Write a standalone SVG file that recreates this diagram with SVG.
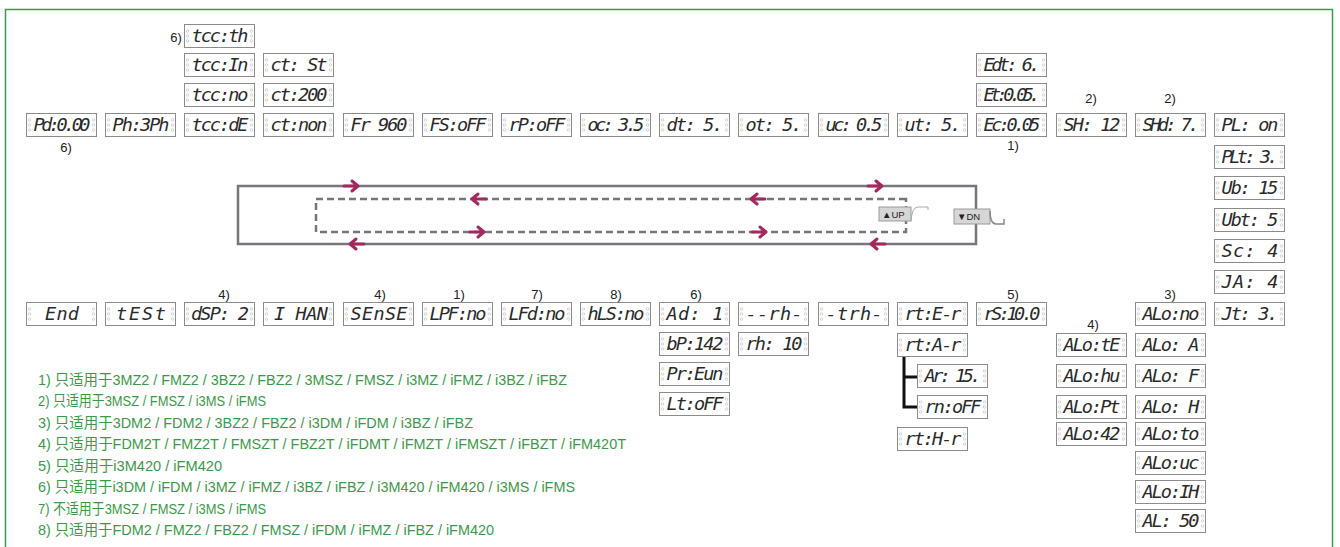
<svg xmlns="http://www.w3.org/2000/svg" xmlns:xlink="http://www.w3.org/1999/xlink" width="1340" height="547" viewBox="0 0 1340 547" xml:space="preserve">
<style>
.t{font-family:"DejaVu Sans Mono",monospace;font-style:italic;font-size:18.5px;fill:#2a2a2a;text-anchor:middle}
.l{font-family:"Liberation Sans",Arial,sans-serif;font-size:13px;fill:#222;text-anchor:middle}
.n{font-family:"Liberation Sans","Noto Sans CJK SC",sans-serif;font-size:15px;fill:#3a9a48}
.loop{fill:none;stroke:#76767c;stroke-width:2.5}
.dash{stroke-dasharray:7 4}
.arw{fill:none;stroke:#a3285e;stroke-width:3;stroke-linecap:round;stroke-linejoin:round}
.btn{fill:#d6d6d6;stroke:#9a9a9a;stroke-width:1}
.bt{font-family:"Liberation Sans",Arial,sans-serif;font-size:9.5px;fill:#222}
</style>
<defs>
<symbol id="box" width="71" height="24" viewBox="0 0 71 24" overflow="visible">
<rect x="0.5" y="0.5" width="70" height="23" fill="#fff" stroke="#8c8c8c" stroke-width="1"/>
<g fill="none" stroke="#c4c4c4" stroke-width="0.7">
<circle cx="3.5" cy="7" r="1.3"/><circle cx="3.5" cy="12" r="1.3"/><circle cx="3.5" cy="17" r="1.3"/>
<circle cx="67.5" cy="7" r="1.3"/><circle cx="67.5" cy="12" r="1.3"/><circle cx="67.5" cy="17" r="1.3"/>
</g>
</symbol>
<path id="ar" d="M-8,0 H6 M0,-5 L6,0 L0,5"/>
</defs>
<rect x="5.5" y="9.5" width="1327" height="560" fill="none" stroke="#3a9d4a" stroke-width="1.5"/>

<g id="connectors">
<rect class="loop" x="238" y="186" width="738" height="58"/>
<path class="loop dash" d="M906,199 H316 V232 H906 Z"/>
<g class="arw">
<use href="#ar" transform="translate(352,186)"/>
<use href="#ar" transform="translate(876,186)"/>
<use href="#ar" transform="translate(478,199) rotate(180)"/>
<use href="#ar" transform="translate(757,199) rotate(180)"/>
<use href="#ar" transform="translate(478,232)"/>
<use href="#ar" transform="translate(760,232)"/>
<use href="#ar" transform="translate(356,244) rotate(180)"/>
<use href="#ar" transform="translate(877,244) rotate(180)"/>
</g>
<path d="M904,357 V407 H917 M904,377 H917" fill="none" stroke="#111" stroke-width="3"/>
</g>

<g id="btn-up">
<rect class="btn" x="879" y="207" width="32" height="14"/>
<path d="M911,221 Q912,207 918,207 H928 V210" fill="none" stroke="#aaa" stroke-width="1"/>
<text class="bt" x="882" y="217.5">▲UP</text>
</g>
<g id="btn-dn">
<rect class="btn" x="954" y="209" width="36" height="15"/>
<path d="M990,211 Q990,224 996,224 H1004 V219" fill="none" stroke="#888" stroke-width="1.5"/>
<text class="bt" x="957" y="220">▼DN</text>
</g>

<g id="labels">
<text class="l" x="176" y="42">6)</text>
<text class="l" x="66" y="152">6)</text>
<text class="l" x="1013" y="150">1)</text>
<text class="l" x="1091" y="103">2)</text>
<text class="l" x="1170" y="103">2)</text>
<text class="l" x="224" y="299">4)</text>
<text class="l" x="380" y="299">4)</text>
<text class="l" x="459" y="299">1)</text>
<text class="l" x="537" y="299">7)</text>
<text class="l" x="616" y="299">8)</text>
<text class="l" x="696" y="299">6)</text>
<text class="l" x="1013" y="299">5)</text>
<text class="l" x="1170" y="299">3)</text>
<text class="l" x="1093" y="329">4)</text>
</g>

<!-- top row -->
<g id="pd"><use href="#box" x="26" y="113"/><text class="t" x="62" y="131" textLength="57">Pd:0.00</text></g>
<g id="ph"><use href="#box" x="105" y="113"/><text class="t" x="141" y="131" textLength="57">Ph:3Ph</text></g>
<g id="tccde"><use href="#box" x="184" y="113"/><text class="t" x="220" y="131" textLength="57">tcc:dE</text></g>
<g id="tccno"><use href="#box" x="184" y="83"/><text class="t" x="220" y="101" textLength="57">tcc:no</text></g>
<g id="tccin"><use href="#box" x="184" y="53"/><text class="t" x="220" y="71" textLength="57">tcc:In</text></g>
<g id="tccth"><use href="#box" x="184" y="24"/><text class="t" x="220" y="42" textLength="57">tcc:th</text></g>
<g id="ctnon"><use href="#box" x="263" y="113"/><text class="t" x="299" y="131" textLength="57">ct:non</text></g>
<g id="ct200"><use href="#box" x="263" y="83"/><text class="t" x="299" y="101" textLength="57">ct:200</text></g>
<g id="ctst"><use href="#box" x="263" y="53"/><text class="t" x="299" y="71" textLength="57">ct: St</text></g>
<g id="fr"><use href="#box" x="343" y="113"/><text class="t" x="379" y="131" textLength="57">Fr 960</text></g>
<g id="fs"><use href="#box" x="422" y="113"/><text class="t" x="458" y="131" textLength="57">FS:oFF</text></g>
<g id="rp"><use href="#box" x="501" y="113"/><text class="t" x="537" y="131" textLength="57">rP:oFF</text></g>
<g id="oc"><use href="#box" x="580" y="113"/><text class="t" x="616" y="131" textLength="57">oc: 3.5</text></g>
<g id="dt"><use href="#box" x="659" y="113"/><text class="t" x="695" y="131" textLength="57">dt:   5.</text></g>
<g id="ot"><use href="#box" x="738" y="113"/><text class="t" x="774" y="131" textLength="57">ot:   5.</text></g>
<g id="uc"><use href="#box" x="818" y="113"/><text class="t" x="854" y="131" textLength="57">uc: 0.5</text></g>
<g id="ut"><use href="#box" x="897" y="113"/><text class="t" x="933" y="131" textLength="57">ut:   5.</text></g>
<g id="ec"><use href="#box" x="976" y="113"/><text class="t" x="1012" y="131" textLength="57">Ec:0.05</text></g>
<g id="et"><use href="#box" x="976" y="83"/><text class="t" x="1012" y="101" textLength="57">Et:0.05.</text></g>
<g id="edt"><use href="#box" x="976" y="53"/><text class="t" x="1012" y="71" textLength="57">Edt: 6.</text></g>
<g id="sh"><use href="#box" x="1056" y="113"/><text class="t" x="1092" y="131" textLength="57">SH:  12</text></g>
<g id="shd"><use href="#box" x="1135" y="113"/><text class="t" x="1171" y="131" textLength="57">SHd: 7.</text></g>
<g id="pl"><use href="#box" x="1214" y="113"/><text class="t" x="1250" y="131" textLength="57">PL: on</text></g>
<g id="plt"><use href="#box" x="1214" y="145"/><text class="t" x="1250" y="163" textLength="57">PLt: 3.</text></g>
<g id="ub"><use href="#box" x="1214" y="176"/><text class="t" x="1250" y="194" textLength="57">Ub:  15</text></g>
<g id="ubt"><use href="#box" x="1214" y="208"/><text class="t" x="1250" y="226" textLength="57">Ubt: 5</text></g>
<g id="sc"><use href="#box" x="1214" y="239"/><text class="t" x="1250" y="257" textLength="57">Sc:   4</text></g>
<g id="ja"><use href="#box" x="1214" y="270"/><text class="t" x="1250" y="288" textLength="57">JA:   4</text></g>
<g id="jt"><use href="#box" x="1214" y="302"/><text class="t" x="1250" y="320" textLength="57">Jt:   3.</text></g>

<!-- bottom row -->
<g id="end"><use href="#box" x="26" y="302"/><text class="t" x="62" y="320" textLength="34">End</text></g>
<g id="test"><use href="#box" x="105" y="302"/><text class="t" x="141" y="320" textLength="50">tESt</text></g>
<g id="dsp"><use href="#box" x="184" y="302"/><text class="t" x="220" y="320" textLength="58">dSP: 2</text></g>
<g id="ihan"><use href="#box" x="263" y="302"/><text class="t" x="301" y="320" textLength="54">I HAN</text></g>
<g id="sense"><use href="#box" x="343" y="302"/><text class="t" x="379" y="320" textLength="57">SEnSE</text></g>
<g id="lpf"><use href="#box" x="422" y="302"/><text class="t" x="458" y="320" textLength="57">LPF:no</text></g>
<g id="lfd"><use href="#box" x="501" y="302"/><text class="t" x="537" y="320" textLength="57">LFd:no</text></g>
<g id="hls"><use href="#box" x="580" y="302"/><text class="t" x="616" y="320" textLength="57">hLS:no</text></g>
<g id="ad"><use href="#box" x="659" y="302"/><text class="t" x="695" y="320" textLength="57">Ad:   1</text></g>
<g id="bp"><use href="#box" x="659" y="332"/><text class="t" x="695" y="350" textLength="57">bP:142</text></g>
<g id="preun"><use href="#box" x="659" y="362"/><text class="t" x="695" y="380" textLength="57">Pr:Eun</text></g>
<g id="ltoff"><use href="#box" x="659" y="392"/><text class="t" x="695" y="410" textLength="57">Lt:oFF</text></g>
<g id="rh"><use href="#box" x="738" y="302"/><text class="t" x="774" y="320" textLength="57">--rh-</text></g>
<g id="rh10"><use href="#box" x="738" y="332"/><text class="t" x="774" y="350" textLength="57">rh:  10</text></g>
<g id="trh"><use href="#box" x="818" y="302"/><text class="t" x="854" y="320" textLength="57">-trh-</text></g>
<g id="rter"><use href="#box" x="897" y="302"/><text class="t" x="933" y="320" textLength="57">rt:E-r</text></g>
<g id="rtar"><use href="#box" x="897" y="333"/><text class="t" x="933" y="351" textLength="57">rt:A-r</text></g>
<g id="ar15"><use href="#box" x="917" y="364"/><text class="t" x="953" y="382" textLength="57">Ar: 15.</text></g>
<g id="rnoff"><use href="#box" x="917" y="395"/><text class="t" x="953" y="413" textLength="57">rn:oFF</text></g>
<g id="rthr"><use href="#box" x="897" y="427"/><text class="t" x="933" y="445" textLength="57">rt:H-r</text></g>
<g id="rs"><use href="#box" x="976" y="302"/><text class="t" x="1012" y="320" textLength="57">rS:10.0</text></g>
<g id="alote"><use href="#box" x="1056" y="333"/><text class="t" x="1092" y="351" textLength="57">ALo:tE</text></g>
<g id="alohu"><use href="#box" x="1056" y="364"/><text class="t" x="1092" y="382" textLength="57">ALo:hu</text></g>
<g id="alopt"><use href="#box" x="1056" y="395"/><text class="t" x="1092" y="413" textLength="57">ALo:Pt</text></g>
<g id="alo42"><use href="#box" x="1056" y="422"/><text class="t" x="1092" y="440" textLength="57">ALo:42</text></g>
<g id="alono"><use href="#box" x="1135" y="302"/><text class="t" x="1171" y="320" textLength="57">ALo:no</text></g>
<g id="aloa"><use href="#box" x="1135" y="333"/><text class="t" x="1171" y="351" textLength="57">ALo: A</text></g>
<g id="alof"><use href="#box" x="1135" y="364"/><text class="t" x="1171" y="382" textLength="57">ALo: F</text></g>
<g id="aloh"><use href="#box" x="1135" y="395"/><text class="t" x="1171" y="413" textLength="57">ALo: H</text></g>
<g id="aloto"><use href="#box" x="1135" y="422"/><text class="t" x="1171" y="440" textLength="57">ALo:to</text></g>
<g id="alouc"><use href="#box" x="1135" y="451"/><text class="t" x="1171" y="469" textLength="57">ALo:uc</text></g>
<g id="aloih"><use href="#box" x="1135" y="480"/><text class="t" x="1171" y="498" textLength="57">ALo:IH</text></g>
<g id="al50"><use href="#box" x="1135" y="509"/><text class="t" x="1171" y="527" textLength="57">AL: 50</text></g>

<g id="notes">
<text class="n" x="38" y="385" textLength="529" lengthAdjust="spacingAndGlyphs">1) 只适用于3MZ2 / FMZ2 / 3BZ2 / FBZ2 / 3MSZ / FMSZ / i3MZ / iFMZ / i3BZ / iFBZ</text>
<text class="n" x="38" y="406" textLength="228" lengthAdjust="spacingAndGlyphs">2) 只适用于3MSZ / FMSZ / i3MS / iFMS</text>
<text class="n" x="38" y="428" textLength="435" lengthAdjust="spacingAndGlyphs">3) 只适用于3DM2 / FDM2 / 3BZ2 / FBZ2 / i3DM / iFDM / i3BZ / iFBZ</text>
<text class="n" x="38" y="449" textLength="588" lengthAdjust="spacingAndGlyphs">4) 只适用于FDM2T / FMZ2T / FMSZT / FBZ2T / iFDMT / iFMZT / iFMSZT / iFBZT / iFM420T</text>
<text class="n" x="38" y="471" textLength="184" lengthAdjust="spacingAndGlyphs">5) 只适用于i3M420 / iFM420</text>
<text class="n" x="38" y="492" textLength="537" lengthAdjust="spacingAndGlyphs">6) 只适用于i3DM / iFDM / i3MZ / iFMZ / i3BZ / iFBZ / i3M420 / iFM420 / i3MS / iFMS</text>
<text class="n" x="38" y="514" textLength="228" lengthAdjust="spacingAndGlyphs">7) 不适用于3MSZ / FMSZ / i3MS / iFMS</text>
<text class="n" x="38" y="535" textLength="456" lengthAdjust="spacingAndGlyphs">8) 只适用于FDM2 / FMZ2 / FBZ2 / FMSZ / iFDM / iFMZ / iFBZ / iFM420</text>
</g>
</svg>
